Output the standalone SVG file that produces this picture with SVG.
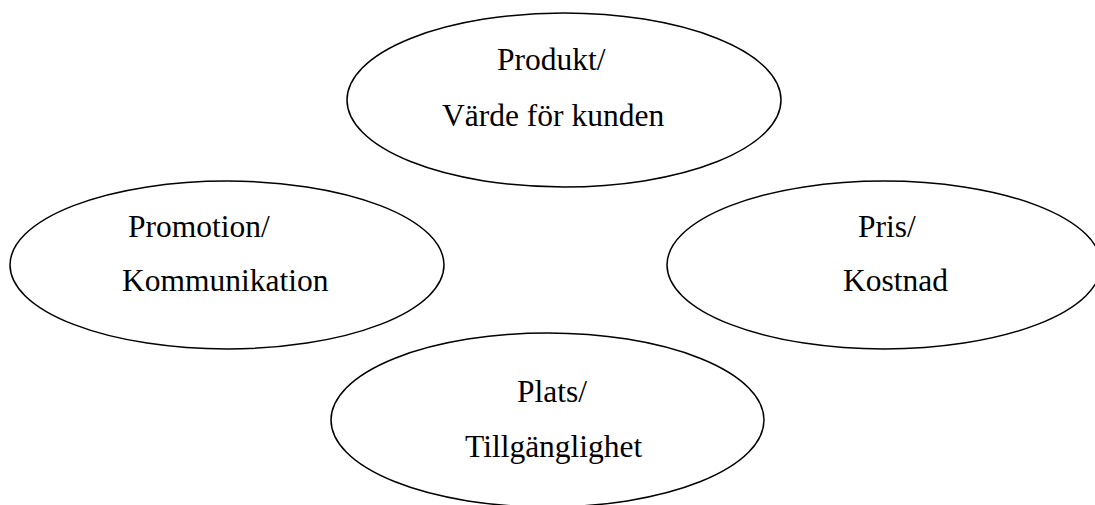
<svg xmlns="http://www.w3.org/2000/svg" width="1095" height="505" viewBox="0 0 1095 505">
  <style>
    .shape { fill: #ffffff; stroke: #000000; stroke-width: 1.5; }
    .label { font-family: "Liberation Serif", "Times New Roman", serif; font-size: 31.5px; fill: #000000; }
  </style>
  <rect width="1095" height="505" fill="#ffffff"/>
  <g id="connectors"></g>
  <g id="produkt">
    <ellipse class="shape" cx="564" cy="100" rx="217" ry="87"/>
    <text class="label" x="497" y="70">Produkt/</text>
    <text class="label" x="442" y="126">Värde för kunden</text>
  </g>
  <g id="promotion">
    <ellipse class="shape" cx="227" cy="265" rx="217" ry="84"/>
    <text class="label" x="128" y="237">Promotion/</text>
    <text class="label" x="122" y="291">Kommunikation</text>
  </g>
  <g id="pris">
    <ellipse class="shape" cx="884" cy="265" rx="217" ry="84"/>
    <text class="label" x="858" y="237">Pris/</text>
    <text class="label" x="843" y="291">Kostnad</text>
  </g>
  <g id="plats">
    <ellipse class="shape" cx="547.5" cy="420" rx="216.5" ry="87"/>
    <text class="label" x="517" y="402">Plats/</text>
    <text class="label" x="465" y="457">Tillgänglighet</text>
  </g>
</svg>
